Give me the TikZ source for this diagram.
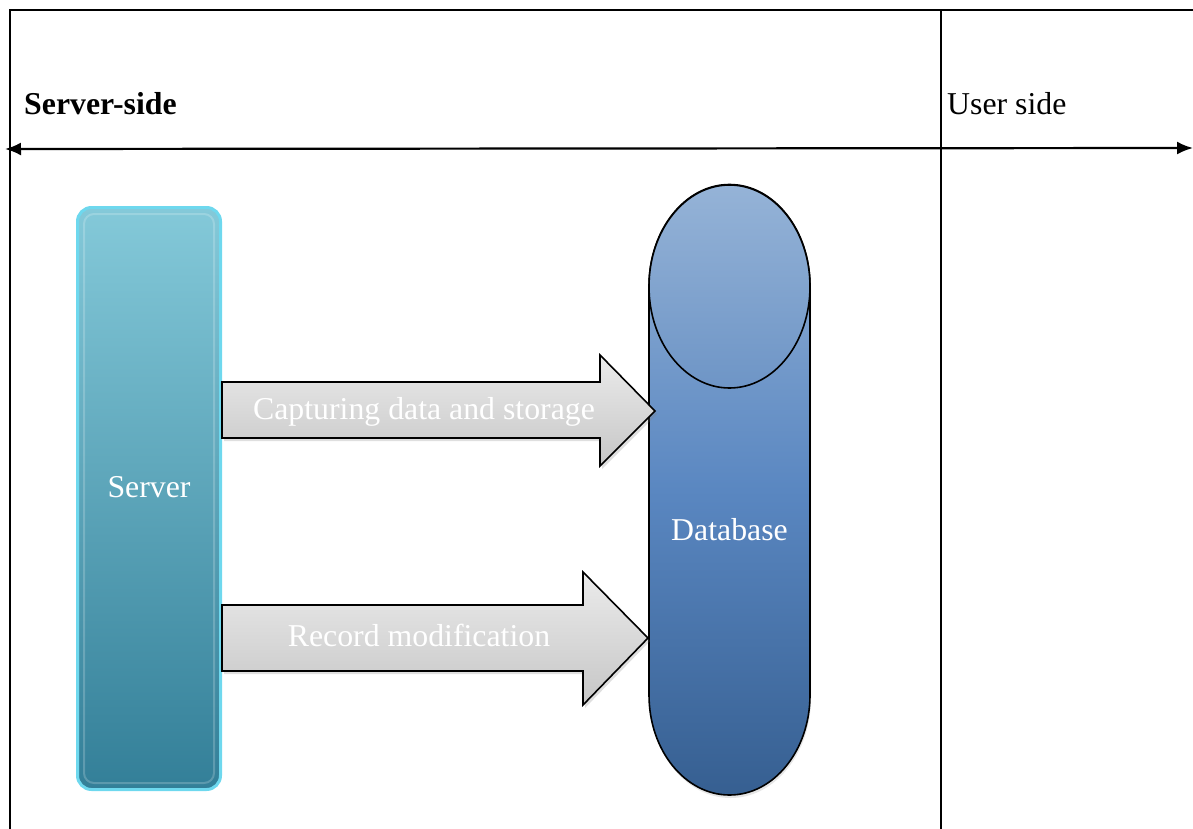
\documentclass[tikz,border=0pt]{standalone}
\usepackage{fontspec}
\setmainfont{Liberation Serif}
\usetikzlibrary{arrows.meta,shadows,shapes.geometric}
\definecolor{srvtop}{HTML}{84C9D9}
\definecolor{srvbot}{HTML}{337F98}
\definecolor{srvedge}{HTML}{6ED8EE}
\definecolor{dbtop}{HTML}{95B3D7}
\definecolor{dbbot}{HTML}{365F91}
\definecolor{dbmid}{HTML}{6E95C6}
\definecolor{dbcen}{HTML}{5A87C1}
\definecolor{arrtop}{HTML}{EBEBEB}
\definecolor{arrbot}{HTML}{C6C6C6}
\tikzset{
  frame/.style={line width=2pt, black},
  lbl/.style={font=\fontsize{31.8}{36}\selectfont, inner sep=0pt},
  whitelbl/.style={lbl, text=white},
  serverbox/.style={rounded corners=14pt, top color=srvtop, bottom color=srvbot,
     draw=srvedge, line width=3pt, minimum width=143pt, minimum height=582pt, inner sep=0pt},
  blockarrow/.style={top color=arrtop, bottom color=arrbot, draw=black, line width=1.6pt,
     line join=miter, drop shadow={shadow xshift=2pt, shadow yshift=-3pt, opacity=0.25}},
  dbshape/.style={draw=black, line width=1.6pt,
     drop shadow={shadow xshift=1pt, shadow yshift=-3pt, opacity=0.2}},
}
\begin{document}
\begin{tikzpicture}[x=1pt,y=-1pt]
\useasboundingbox (0,0) rectangle (1193,829);
% frame
\coordinate (tl) at (10,10);
\coordinate (tr) at (1193,10);
\coordinate (bl) at (10,829);
\coordinate (dt) at (940.5,10);
\coordinate (db) at (940.5,829);
\coordinate (al) at (5,149);
\coordinate (ar) at (1193,148);
\draw[frame] (bl) -- (tl) -- (tr);
\draw[frame] (dt) -- (db);
\draw[line width=2.2pt, {Latex[length=16pt,width=13pt]}-{Latex[length=16pt,width=13pt]}] (al) -- (ar);
\node[lbl, anchor=base west, font=\bfseries\fontsize{31.8}{36}\selectfont] (srvside) at (24,115) {Server-side};
\node[lbl, anchor=base west] (usrside) at (947,115) {User side};
% server
\node[serverbox] (server) at (149,498.5) {};
\draw[white, opacity=0.2, line width=2pt, rounded corners=10pt] ([xshift=8pt,yshift=-8pt]server.north west) rectangle ([xshift=-8pt,yshift=8pt]server.south east);
\node[whitelbl] (srvlbl) at ([yshift=11pt]server.center) {Server};
% database
\path[dbshape, top color=dbtop, bottom color=dbbot, middle color=dbcen]
  (649,286) -- (649,695) arc[start angle=180, end angle=0, x radius=80.5, y radius=100]
  -- (810,286) arc[start angle=0, end angle=-180, x radius=80.5, y radius=101.5] -- cycle;
\node[draw=black, line width=1.6pt, ellipse, minimum width=161pt, minimum height=203pt, inner sep=0pt,
      top color=dbtop, bottom color=dbmid] (dbtopell) at (729.5,286.5) {};
\coordinate (database) at (729.5,530);
\node[whitelbl] (dblbl) at (database) {Database};
% block arrows
\path[blockarrow] (222,382) -- (600,382) -- (600,355) -- (655,411) -- (600,466) -- (600,438) -- (222,438) -- cycle;
\node[whitelbl] (a1) at (424,412) {Capturing data and storage};
\path[blockarrow] (222,605) -- (583,605) -- (583,572) -- (648,638) -- (583,705) -- (583,671) -- (222,671) -- cycle;
\node[whitelbl] (a2) at (419,635) {Record modification};
\end{tikzpicture}
\end{document}
